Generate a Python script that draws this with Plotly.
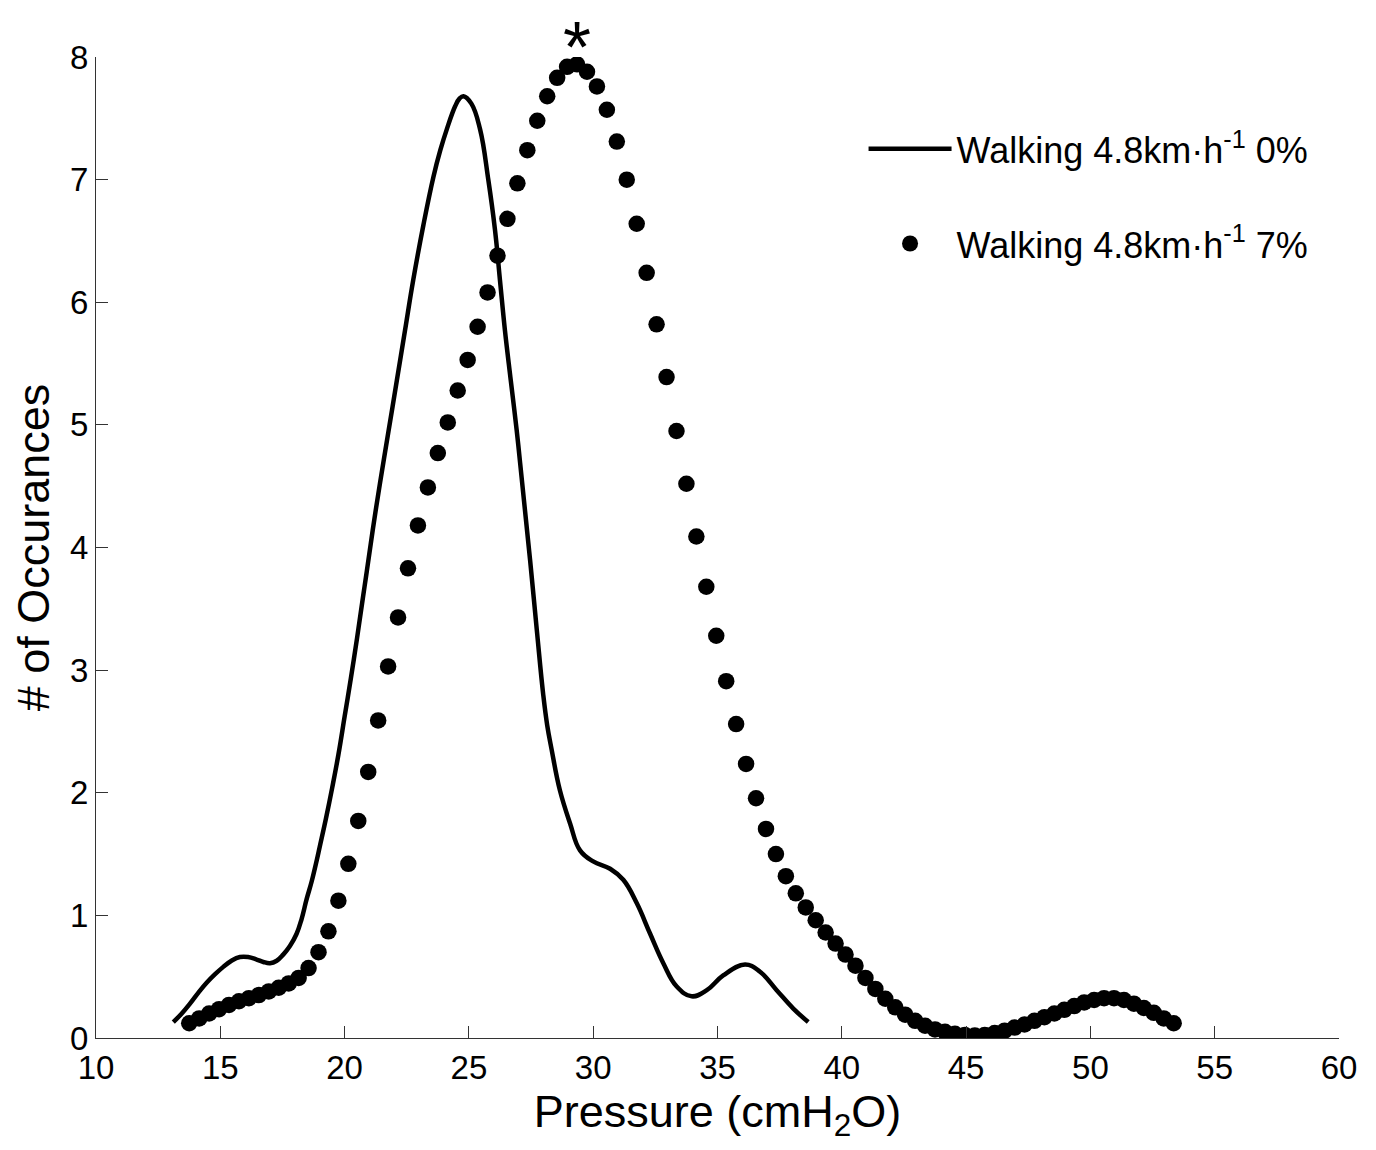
import plotly.graph_objects as go

# ---- data ----
flat_x = [13.11, 13.45, 13.78, 14.12, 14.45, 14.79, 15.12, 15.45, 15.79, 16.12,
          16.46, 16.73, 17.00, 17.27, 17.53, 17.80, 18.07, 18.27, 18.47, 18.68,
          18.88, 19.00, 19.25, 19.50, 19.75, 20.00, 20.25, 20.50, 20.75, 20.86,
          21.13, 21.42, 21.76, 22.10, 22.43, 22.76, 23.17, 23.57, 23.85, 24.11,
          24.45, 24.62, 24.78, 25.10, 25.45, 25.78, 26.05, 26.25, 26.45, 26.68,
          26.92, 27.06, 27.46, 27.73, 27.99, 28.15, 28.33, 28.66, 29.07, 29.47,
          30.00, 30.68, 31.21, 31.75, 32.29, 32.82, 33.36, 33.96, 34.57, 35.23,
          36.11, 36.71, 37.38, 38.05, 38.65]
flat_y = [0.13, 0.20, 0.28, 0.37, 0.45, 0.52, 0.58, 0.63, 0.66, 0.66,
          0.64, 0.62, 0.61, 0.63, 0.68, 0.75, 0.85, 0.97, 1.13, 1.28,
          1.45, 1.56, 1.79, 2.04, 2.31, 2.62, 2.93, 3.26, 3.61, 3.76,
          4.14, 4.52, 4.94, 5.36, 5.77, 6.18, 6.63, 7.02, 7.24, 7.41,
          7.60, 7.66, 7.68, 7.62, 7.41, 7.00, 6.59, 6.18, 5.77, 5.37,
          4.96, 4.69, 3.90, 3.33, 2.80, 2.55, 2.35, 2.02, 1.75, 1.53,
          1.44, 1.38, 1.29, 1.10, 0.85, 0.61, 0.42, 0.34, 0.39, 0.51,
          0.60, 0.54, 0.39, 0.24, 0.13]

incline_x = [13.75, 14.15, 14.55, 14.95, 15.35, 15.75, 16.15, 16.55, 16.95, 17.35,
             17.75, 18.15, 18.55, 18.95, 19.35, 19.75, 20.15, 20.55, 20.95, 21.35,
             21.75, 22.15, 22.55, 22.95, 23.35, 23.75, 24.15, 24.55, 24.95, 25.35,
             25.75, 26.15, 26.55, 26.95, 27.35, 27.75, 28.15, 28.55, 28.95, 29.35,
             29.75, 30.15, 30.55, 30.95, 31.35, 31.75, 32.15, 32.55, 32.95, 33.35,
             33.75, 34.15, 34.55, 34.95, 35.35, 35.75, 36.15, 36.55, 36.95, 37.35,
             37.75, 38.15, 38.55, 38.95, 39.35, 39.75, 40.15, 40.55, 40.95, 41.35,
             41.75, 42.15, 42.55, 42.95, 43.35, 43.75, 44.15, 44.55, 44.95, 45.35,
             45.75, 46.15, 46.55, 46.95, 47.35, 47.75, 48.15, 48.55, 48.95, 49.35,
             49.75, 50.15, 50.55, 50.95, 51.35, 51.75, 52.15, 52.55, 52.95, 53.35]
incline_y = [0.12, 0.16, 0.20, 0.235, 0.27, 0.30, 0.325, 0.35, 0.38, 0.41,
             0.445, 0.49, 0.57, 0.70, 0.87, 1.12, 1.42, 1.77, 2.17, 2.59,
             3.03, 3.43, 3.83, 4.18, 4.49, 4.77, 5.02, 5.28, 5.53, 5.80,
             6.08, 6.38, 6.68, 6.97, 7.24, 7.48, 7.68, 7.83, 7.92, 7.94,
             7.88, 7.76, 7.57, 7.31, 7.00, 6.64, 6.24, 5.82, 5.39, 4.95,
             4.52, 4.09, 3.68, 3.28, 2.91, 2.56, 2.235, 1.955, 1.705, 1.50,
             1.32, 1.18, 1.065, 0.96, 0.86, 0.77, 0.68, 0.59, 0.49, 0.40,
             0.32, 0.25, 0.19, 0.14, 0.10, 0.07, 0.05, 0.035, 0.025, 0.02,
             0.025, 0.04, 0.06, 0.085, 0.11, 0.14, 0.17, 0.20, 0.23, 0.26,
             0.29, 0.31, 0.325, 0.325, 0.31, 0.28, 0.245, 0.205, 0.16, 0.12]

x_ticks = [10, 15, 20, 25, 30, 35, 40, 45, 50, 55, 60]
y_ticks = [0, 1, 2, 3, 4, 5, 6, 7, 8]

name_flat = "Walking 4.8km·h<sup>-1</sup> 0%"
name_incline = "Walking 4.8km·h<sup>-1</sup> 7%"
x_title = "Pressure (cmH<sub>2</sub>O)"
y_title = "# of Occurances"
star_text = "*"

FONT = "Liberation Sans, Arial, sans-serif"
AXC = "#333333"

fig = go.Figure()
fig.add_trace(go.Scatter(
    x=flat_x, y=flat_y, mode="lines", name=name_flat,
    line=dict(color="black", width=4.5, shape="spline", smoothing=1.2),
    legendgroup="a",
))
fig.add_trace(go.Scatter(
    x=incline_x, y=incline_y, mode="markers", name=name_incline,
    marker=dict(color="black", size=16.5),
    legendgroup="b",
))

# asterisk above the peak of the 7% series
peak_i = max(range(len(incline_y)), key=lambda i: incline_y[i])
fig.add_annotation(
    x=incline_x[peak_i], y=8, xref="x", yref="y",
    text=star_text, showarrow=False, yanchor="middle", yshift=10,
    font=dict(family=FONT, size=72, color="black"),
)

fig.update_layout(
    width=1376, height=1150,
    margin=dict(l=88, r=45, t=49, b=120),
    paper_bgcolor="white", plot_bgcolor="white",
    font=dict(family=FONT, color="black", size=33),
    showlegend=True,
    legend=dict(
        x=0.6175, y=0.937, xanchor="left", yanchor="top",
        bgcolor="rgba(0,0,0,0)", borderwidth=0,
        font=dict(family=FONT, size=36, color="black"),
        traceorder="grouped", tracegroupgap=45,
        itemwidth=83,
    ),
    xaxis=dict(
        range=[10, 60], tickvals=x_ticks, ticktext=[str(v) for v in x_ticks],
        showline=True, linecolor=AXC, linewidth=1.2, mirror=False,
        ticks="inside", ticklen=12, tickcolor=AXC, tickwidth=1.2,
        showgrid=False, zeroline=False,
        tickfont=dict(family=FONT, size=33, color="black"),
        title=dict(text=x_title, font=dict(family=FONT, size=45, color="black"), standoff=4),
    ),
    yaxis=dict(
        range=[0, 8], tickvals=y_ticks, ticktext=[str(v) for v in y_ticks],
        showline=True, linecolor=AXC, linewidth=1.2, mirror=False,
        ticks="inside", ticklen=12, tickcolor=AXC, tickwidth=1.2,
        showgrid=False, zeroline=False,
        tickfont=dict(family=FONT, size=33, color="black"),
        title=dict(text=y_title, font=dict(family=FONT, size=45, color="black"), standoff=12),
    ),
)

fig.write_html("out.html")
